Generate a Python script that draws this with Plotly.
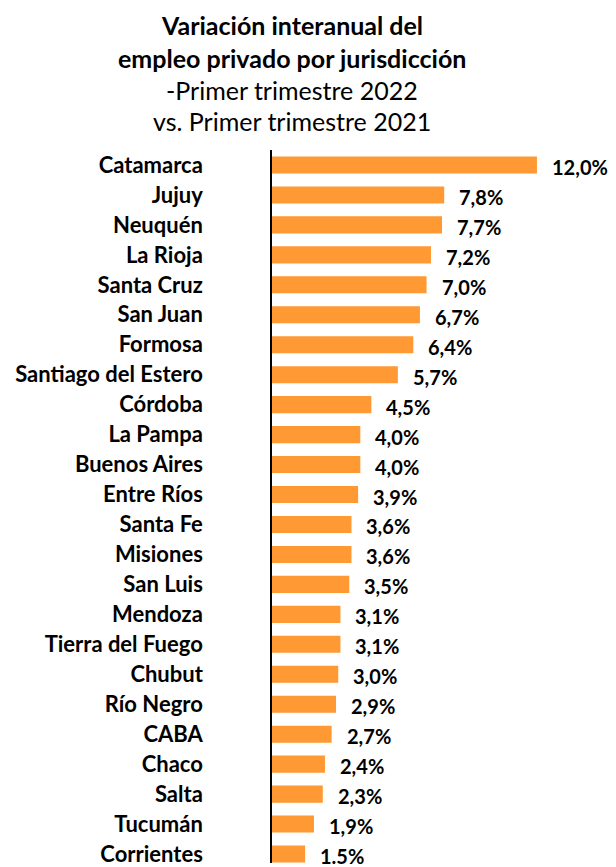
import plotly.graph_objects as go

provincias = ["Catamarca", "Jujuy", "Neuquén", "La Rioja", "Santa Cruz", "San Juan", "Formosa",
              "Santiago del Estero", "Córdoba", "La Pampa", "Buenos Aires", "Entre Ríos", "Santa Fe",
              "Misiones", "San Luis", "Mendoza", "Tierra del Fuego", "Chubut", "Río Negro", "CABA",
              "Chaco", "Salta", "Tucumán", "Corrientes"]
variacion = [12.0, 7.8, 7.7, 7.2, 7.0, 6.7, 6.4, 5.7, 4.5, 4.0, 4.0, 3.9, 3.6, 3.6, 3.5, 3.1, 3.1,
             3.0, 2.9, 2.7, 2.4, 2.3, 1.9, 1.5]
etiquetas = ["12,0%", "7,8%", "7,7%", "7,2%", "7,0%", "6,7%", "6,4%", "5,7%", "4,5%", "4,0%", "4,0%",
             "3,9%", "3,6%", "3,6%", "3,5%", "3,1%", "3,1%", "3,0%", "2,9%", "2,7%", "2,4%", "2,3%",
             "1,9%", "1.5%"]
titulo = ["<b>Variación interanual del</b>", "<b>empleo privado por jurisdicción</b>",
          "-Primer trimestre 2022", "vs. Primer trimestre 2021"]

FONT = "Lato"
W, H = 616, 867
L, T = 272, 150
plot_h = H - T
PX_PER_UNIT = 22.08

fig = go.Figure(go.Bar(
    x=variacion, y=provincias, orientation="h",
    marker=dict(color="#FF9933", line=dict(width=0)),
    hoverinfo="skip",
))

for v, p, e in zip(variacion, provincias, etiquetas):
    fig.add_annotation(x=v, y=p, text=f"<b>{e}</b>", showarrow=False, xanchor="left",
                       yanchor="middle", xshift=13, yshift=-2,
                       font=dict(family=FONT, size=20, color="black"))

title_y = [24, 57, 90, 121]
for txt, py in zip(titulo, title_y):
    fig.add_annotation(xref="paper", yref="paper", x=(292 - L) / (W - L), y=(H - py) / plot_h,
                       text=txt, showarrow=False, xanchor="center", yanchor="middle",
                       font=dict(family=FONT, size=25, color="black"))

fig.update_layout(
    width=W, height=H,
    margin=dict(l=L, r=0, t=T, b=0),
    paper_bgcolor="white", plot_bgcolor="white",
    bargap=0.43,
    showlegend=False,
    font=dict(family=FONT, color="black"),
)
fig.update_xaxes(range=[0, (W - L) / PX_PER_UNIT], visible=False, showgrid=False, zeroline=False)
fig.update_yaxes(
    autorange=False, range=[23.3, -0.5],
    showline=True, linecolor="black", linewidth=1.5,
    showgrid=False, zeroline=False, ticks="",
    tickfont=dict(family=FONT, size=22, color="black"),
    ticklabelstandoff=63,
    tickprefix="<b>", ticksuffix="</b>",
)

fig.write_html("out.html", config={"displayModeBar": False},
               post_script="document.body.style.margin='0';")
